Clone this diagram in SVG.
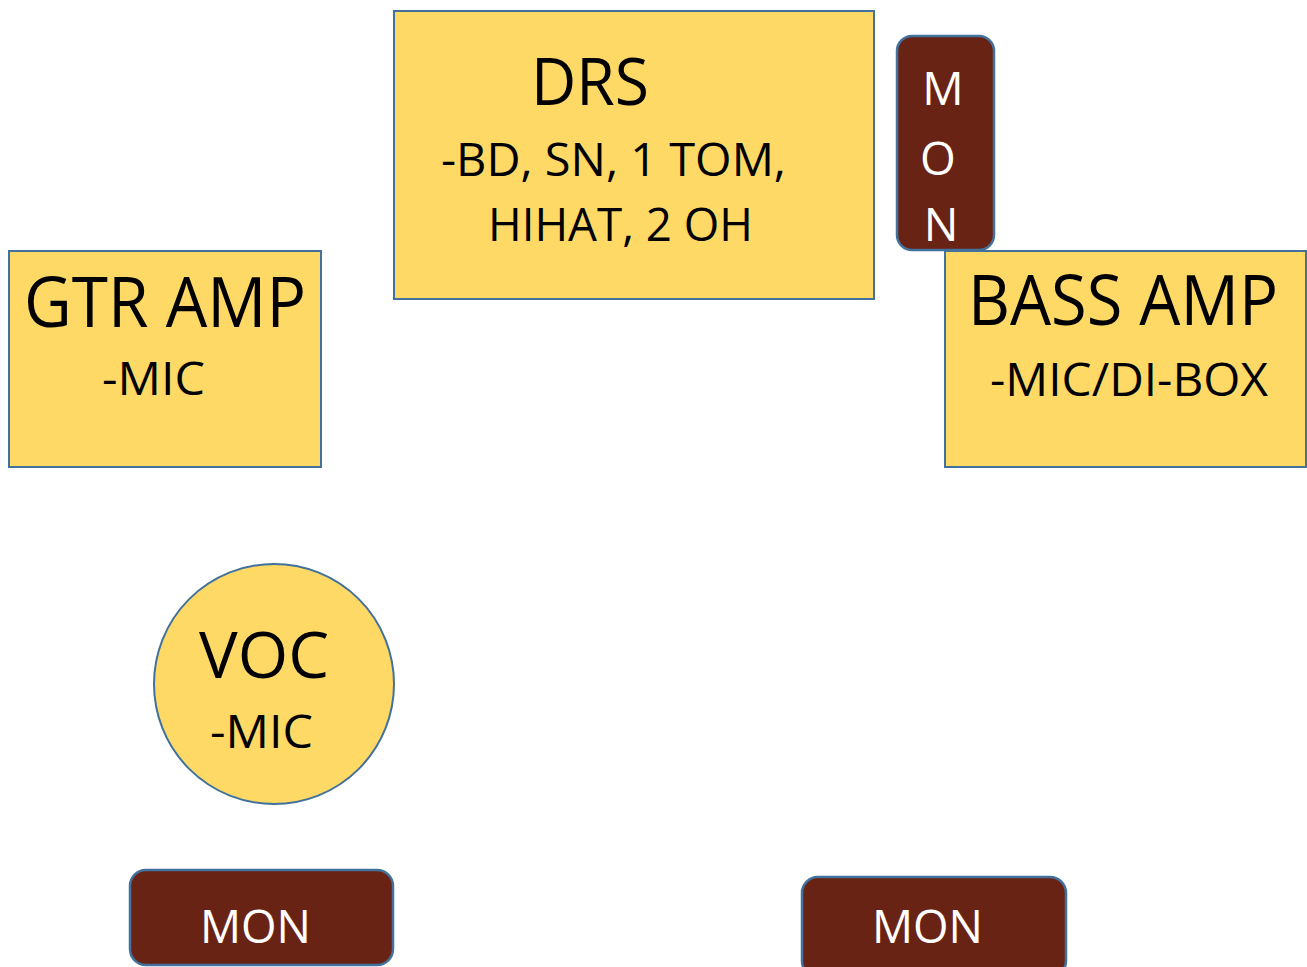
<svg xmlns="http://www.w3.org/2000/svg" width="1307" height="967" viewBox="0 0 1307 967">
<style>
.y{fill:#FFD966;stroke:#41719C;stroke-width:2}
.m{fill:#692314;stroke:#41719C;stroke-width:2.5}
text{font-family:"Open Sans","Liberation Sans",sans-serif;}
.k{fill:#000}
.w{fill:#fff}
</style>
<rect width="1307" height="967" fill="#fff"/>
<g id="drs">
<rect class="y" x="394" y="11" width="480" height="288"/>
<text class="k" x="531" y="105" font-size="66" textLength="118" lengthAdjust="spacingAndGlyphs">DRS</text>
<text class="k" x="441" y="176" font-size="46" textLength="345" lengthAdjust="spacingAndGlyphs">-BD, SN, 1 TOM,</text>
<text class="k" x="488" y="241" font-size="46" textLength="265" lengthAdjust="spacingAndGlyphs">HIHAT, 2 OH</text>
</g>
<g id="mon-drs">
<rect class="m" x="897" y="36" width="97" height="214" rx="15"/>
<text class="w" x="943" y="105" font-size="46" text-anchor="middle">M</text>
<text class="w" x="938" y="175" font-size="46" text-anchor="middle">O</text>
<text class="w" x="941" y="241" font-size="46" text-anchor="middle">N</text>
</g>
<g id="gtr">
<rect class="y" x="9" y="251" width="312" height="216"/>
<text class="k" x="24" y="327" font-size="70" textLength="282" lengthAdjust="spacingAndGlyphs">GTR AMP</text>
<text class="k" x="102" y="395" font-size="46" textLength="103" lengthAdjust="spacingAndGlyphs">-MIC</text>
</g>
<g id="bass">
<rect class="y" x="945" y="251" width="361" height="216"/>
<text class="k" x="968" y="325" font-size="70" textLength="310" lengthAdjust="spacingAndGlyphs">BASS AMP</text>
<text class="k" x="990" y="396" font-size="46" textLength="278" lengthAdjust="spacingAndGlyphs">-MIC/DI-BOX</text>
</g>
<g id="voc">
<circle class="y" cx="274" cy="684" r="120"/>
<text class="k" x="199" y="678" font-size="64" textLength="130" lengthAdjust="spacingAndGlyphs">VOC</text>
<text class="k" x="210" y="748" font-size="46" textLength="103" lengthAdjust="spacingAndGlyphs">-MIC</text>
</g>
<g id="mon-left">
<rect class="m" x="130" y="870" width="263" height="95" rx="16"/>
<text class="w" x="200" y="943" font-size="46" textLength="111" lengthAdjust="spacingAndGlyphs">MON</text>
</g>
<g id="mon-right">
<rect class="m" x="802" y="877" width="264" height="100" rx="16"/>
<text class="w" x="872" y="943" font-size="46" textLength="111" lengthAdjust="spacingAndGlyphs">MON</text>
</g>
<g id="connectors"></g>
</svg>
